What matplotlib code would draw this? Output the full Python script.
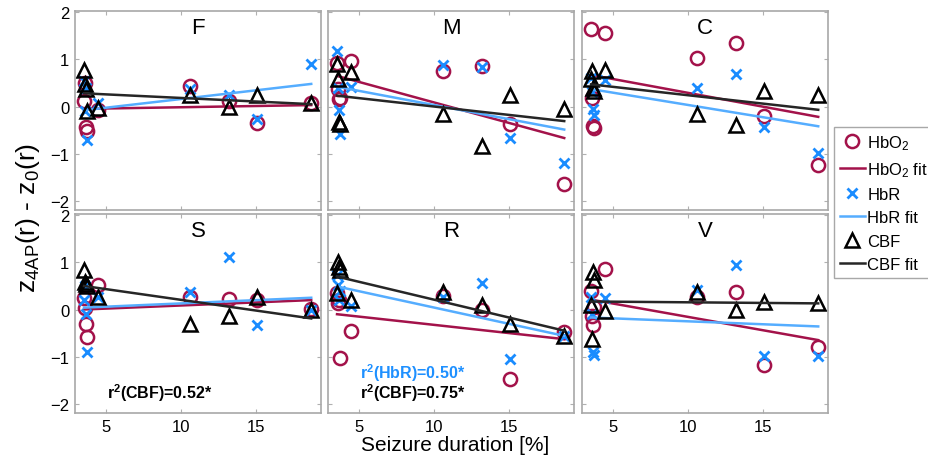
import matplotlib
matplotlib.use('Agg')
import matplotlib.pyplot as plt
import numpy as np

plt.rcParams['font.family'] = ['Liberation Sans', 'DejaVu Sans']
plt.rcParams['mathtext.fontset'] = 'custom'
plt.rcParams['mathtext.rm'] = 'Liberation Sans'
plt.rcParams['mathtext.it'] = 'Liberation Sans'
plt.rcParams['mathtext.bf'] = 'Liberation Sans:bold'
plt.rcParams['mathtext.default'] = 'regular'

# seizure duration [%] per animal, same for every panel
durations = [3.55, 3.62, 3.7, 3.78, 4.45, 10.6, 13.2, 15.05, 18.65]

panels = ['F', 'M', 'C', 'S', 'R', 'V']

hbo2 = {
    'F': [0.12, 0.5, -0.44, -0.53, -0.07, 0.43, 0.12, -0.35, 0.08],
    'M': [0.92, 0.37, 0.16, 0.18, 0.97, 0.75, 0.87, -0.38, -1.65],
    'C': [1.65, 0.19, -0.42, -0.45, 1.57, 1.04, 1.34, -0.21, -1.24],
    'S': [0.24, 0.03, -0.31, -0.58, 0.52, 0.27, 0.22, 0.21, 0.01],
    'R': [0.35, 0.13, 0.2, -1.03, -0.45, 0.29, 0.0, -1.47, -0.48],
    'V': [0.4, -0.14, -0.33, 0.05, 0.87, 0.27, 0.38, -1.19, -0.79],
}
hbr = {
    'F': [0.55, -0.09, 0.4, -0.72, 0.08, 0.38, 0.24, -0.26, 0.9],
    'M': [1.17, 0.39, -0.08, -0.59, 0.42, 0.89, 0.85, -0.67, -1.21],
    'C': [0.6, 0.3, -0.05, -0.19, 0.56, 0.4, 0.69, -0.43, -0.99],
    'S': [0.2, 0.5, -0.09, -0.91, 0.27, 0.38, 1.12, -0.33, 0.0],
    'R': [0.73, 0.52, 0.21, 0.4, 0.07, 0.27, 0.57, -1.06, -0.56],
    'V': [0.27, -0.1, -0.91, -0.97, 0.24, 0.42, 0.94, -0.98, -0.98],
}
cbf = {
    'F': [0.78, 0.47, 0.38, -0.09, -0.03, 0.24, -0.01, 0.24, 0.07],
    'M': [0.9, 0.59, -0.33, -0.38, 0.74, -0.17, -0.83, 0.24, -0.05],
    'C': [0.58, 0.76, 0.39, 0.32, 0.78, -0.15, -0.4, 0.32, 0.24],
    'S': [0.84, 0.59, 0.55, 0.49, 0.27, -0.3, -0.14, 0.27, 0.0],
    'R': [0.36, 1.01, 0.91, 0.85, 0.2, 0.38, 0.1, -0.31, -0.56],
    'V': [0.1, -0.62, 0.8, 0.63, -0.03, 0.38, 0.0, 0.15, 0.14],
}

# linear fits: value at shortest and at longest duration
hbo2_fit = {'F': [-0.05, 0.03], 'M': [0.65, -0.67], 'C': [0.67, -0.22],
            'S': [0.0, 0.2], 'R': [-0.1, -0.63], 'V': [0.21, -0.65]}
hbr_fit = {'F': [-0.08, 0.48], 'M': [0.42, -0.49], 'C': [0.37, -0.42],
           'S': [0.04, 0.25], 'R': [0.49, -0.56], 'V': [-0.17, -0.36]}
cbf_fit = {'F': [0.28, 0.05], 'M': [0.23, -0.31], 'C': [0.47, -0.07],
           'S': [0.5, -0.19], 'R': [0.7, -0.45], 'V': [0.17, 0.13]}

# significant r^2 annotations: (panel, label, value, colour)
r2_notes = [('S', 'CBF', 0.52, 'black'),
            ('R', 'HbR', 0.50, '#1e90ff'),
            ('R', 'CBF', 0.75, 'black')]

C_HBO2 = '#a3124a'
C_HBR = '#1a8cff'
C_HBR_FIT = '#55adff'
C_CBF_FIT = '#262626'

W, H = 929, 464
fig = plt.figure(figsize=(W / 100, H / 100), dpi=100)

col_left = [75, 328, 582]
row_top = [12, 215]
ax_w, ax_h = 246, 199

fit_x = [min(durations), max(durations)]
handles = None
for i, p in enumerate(panels):
    r, c = divmod(i, 3)
    ax = fig.add_axes([col_left[c] / W, 1 - (row_top[r] + ax_h) / H, ax_w / W, ax_h / H])

    h1, = ax.plot(durations, hbo2[p], 'o', ls='none', mfc='none', mec=C_HBO2, ms=9.5, mew=1.8)
    h2, = ax.plot(fit_x, hbo2_fit[p], '-', color=C_HBO2, lw=1.8)
    h3, = ax.plot(durations, hbr[p], 'x', ls='none', color=C_HBR, ms=6.5, mew=2)
    h4, = ax.plot(fit_x, hbr_fit[p], '-', color=C_HBR_FIT, lw=1.8)
    h5, = ax.plot(durations, cbf[p], '^', ls='none', mfc='none', mec='black', ms=10, mew=1.8)
    h6, = ax.plot(fit_x, cbf_fit[p], '-', color=C_CBF_FIT, lw=1.8)
    handles = [h1, h2, h3, h4, h5, h6]

    ax.set_xlim(2.95, 19.3)
    ax.set_ylim(-2.2, 2.03)
    ax.set_xticks([5, 10, 15])
    ax.set_yticks([-2, -1, 0, 1, 2])
    ax.tick_params(direction='in', length=3, color='#b0b0b0', top=True, right=True,
                   labelsize=12, pad=4)
    if r == 0:
        ax.set_xticklabels([])
    if c > 0:
        ax.set_yticklabels([])
    for s in ax.spines.values():
        s.set_color('#a8a8a8')
        s.set_linewidth(1.2)

    ax.text(0.5, 0.915, p, transform=ax.transAxes, ha='center', va='center', fontsize=16)

    notes = [n for n in r2_notes if n[0] == p]
    for k, (_, lab, val, col) in enumerate(notes):
        y = 0.105 + 0.1 * (len(notes) - 1 - k)
        ax.text(0.13, y, r'r$^{\mathbf{2}}$(%s)=%.2f*' % (lab, val), transform=ax.transAxes,
                ha='left', va='center', fontsize=11.5, fontweight='bold', color=col)

fig.legend(handles, ['HbO$_2$', 'HbO$_2$ fit', 'HbR', 'HbR fit', 'CBF', 'CBF fit'],
           loc='upper left', bbox_to_anchor=(834 / W, 1 - 128 / H), fontsize=12,
           frameon=True, fancybox=False, edgecolor='#a8a8a8', framealpha=1,
           handlelength=1.5, handletextpad=0.15, borderpad=0.35, labelspacing=0.5,
           borderaxespad=0)

fig.text(28 / W, 0.53, 'z$_{4AP}$(r) - z$_0$(r)', rotation=90, ha='center', va='center', fontsize=19)
fig.text(455 / W, 1 - 446 / H, 'Seizure duration [%]', ha='center', va='center', fontsize=15)

fig.savefig('out.png', dpi=100)
